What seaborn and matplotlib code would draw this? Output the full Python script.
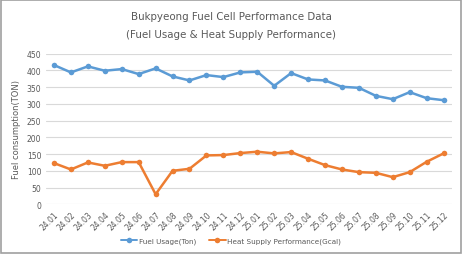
import matplotlib
matplotlib.use("Agg")
import matplotlib.pyplot as plt
import seaborn as sns
import pandas as pd
from matplotlib.patches import Rectangle

months = ["24.01","24.02","24.03","24.04","24.05","24.06","24.07","24.08","24.09","24.10","24.11","24.12",
          "25.01","25.02","25.03","25.04","25.05","25.06","25.07","25.08","25.09","25.10","25.11","25.12"]
fuel_usage = [416, 394, 412, 399, 404, 389, 406, 382, 370, 386, 380, 394,
              396, 354, 392, 373, 370, 351, 348, 324, 314, 335, 317, 311]
heat_supply = [123, 104, 125, 115, 126, 126, 30, 100, 106, 146, 147, 153,
               157, 152, 156, 136, 117, 104, 96, 94, 81, 96, 127, 152]
yticks = [0, 50, 100, 150, 200, 250, 300, 350, 400, 450]

sns.set_theme(style="white")
plt.rcParams['font.family'] = ['DejaVu Sans']

df = pd.DataFrame({"month": months, "Fuel Usage(Ton)": fuel_usage,
                   "Heat Supply Performance(Gcal)": heat_supply})
long = df.melt(id_vars="month", var_name="series", value_name="value")

fig = plt.figure(figsize=(4.62, 2.55), dpi=100)
fig.patch.set_facecolor("white")
ax = fig.add_axes([0.0985, 0.195, 0.880, 0.5906])

palette = {"Fuel Usage(Ton)": "#5B9BD5", "Heat Supply Performance(Gcal)": "#ED7D31"}
sns.lineplot(data=long, x="month", y="value", hue="series", palette=palette,
             marker="o", markersize=4, markeredgewidth=0, linewidth=1.8, ax=ax, sort=False)

ax.set_xlim(-0.5, len(months) - 0.5)
ax.set_ylim(0, 450)
ax.set_yticks(yticks)
ax.set_yticklabels([str(v) for v in yticks], fontsize=5.5, color="#595959")
ax.set_xticks(range(len(months)))
ax.set_xticklabels(months, rotation=45, ha="right", rotation_mode="anchor", fontsize=5.5, color="#595959")
ax.tick_params(axis="both", length=0, pad=3)
ax.tick_params(axis="x", pad=4)
ax.grid(axis="y", color="#d9d9d9", linewidth=0.8)
ax.set_axisbelow(True)
for s in ax.spines.values():
    s.set_visible(False)
ax.set_xlabel("")
ax.set_ylabel("Fuel consumption(TON)", fontsize=6, color="#595959", labelpad=4)

handles, labels = ax.get_legend_handles_labels()
for h in handles:
    h.set_linewidth(1.4)
ax.legend(handles, labels, loc="center", bbox_to_anchor=(0.5, 0.052), bbox_transform=fig.transFigure,
          ncol=2, frameon=False, fontsize=5.2, labelcolor="#595959", handlelength=2.3,
          columnspacing=1.8, handletextpad=0.2)

fig.text(0.5, 0.932, "Bukpyeong Fuel Cell Performance Data", ha="center", va="center",
         fontsize=7.4, color="#595959")
fig.text(0.5, 0.862, "(Fuel Usage & Heat Supply Performance)", ha="center", va="center",
         fontsize=7.4, color="#595959")

fig.add_artist(Rectangle((0.002, 0.004), 0.996, 0.992, transform=fig.transFigure,
                         fill=False, edgecolor="#a0a0a0", linewidth=1.2))

fig.savefig("out.png", dpi=100, facecolor="white")
